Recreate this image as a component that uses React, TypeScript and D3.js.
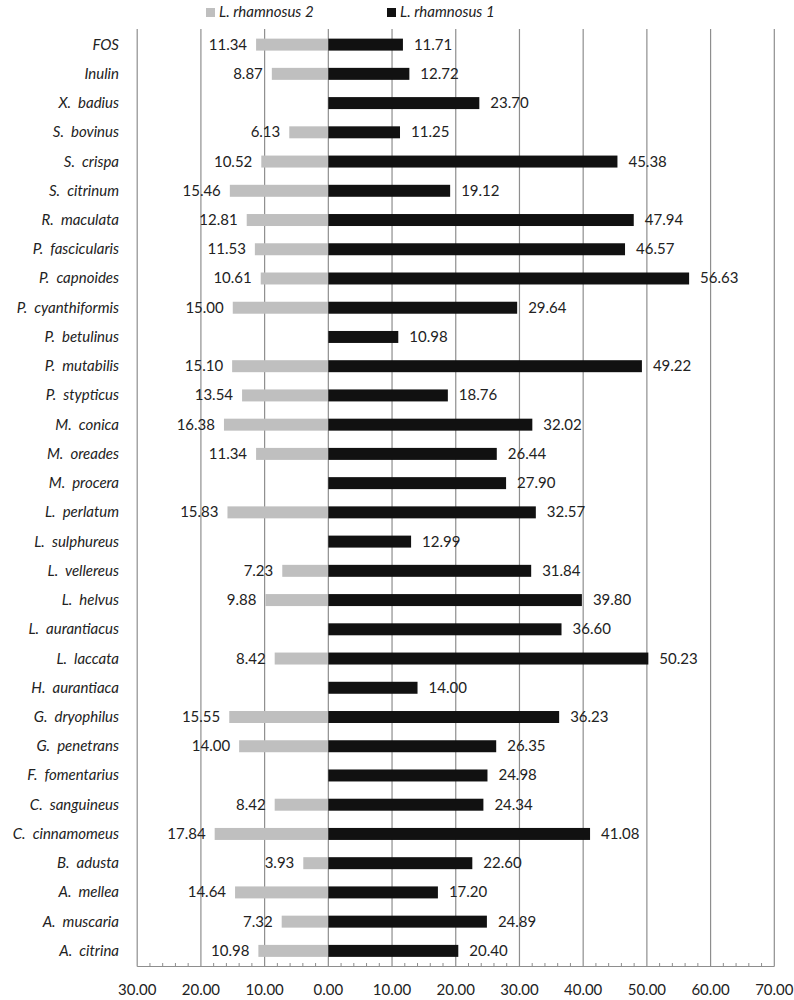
import React from "react";
import * as d3 from "d3";

const categories = [
  "FOS", "Inulin", "X.  badius", "S.  bovinus", "S.  crispa", "S.  citrinum", "R.  maculata",
  "P.  fascicularis", "P.  capnoides", "P.  cyanthiformis", "P.  betulinus", "P.  mutabilis",
  "P.  stypticus", "M.  conica", "M.  oreades", "M.  procera", "L.  perlatum", "L.  sulphureus",
  "L.  vellereus", "L.  helvus", "L.  aurantiacus", "L.  laccata", "H.  aurantiaca",
  "G.  dryophilus", "G.  penetrans", "F.  fomentarius", "C.  sanguineus", "C.  cinnamomeus",
  "B.  adusta", "A.  mellea", "A.  muscaria", "A.  citrina",
];

const rhamnosus2: (number | null)[] = [
  11.34, 8.87, null, 6.13, 10.52, 15.46, 12.81, 11.53, 10.61, 15.0, null, 15.1, 13.54, 16.38,
  11.34, null, 15.83, null, 7.23, 9.88, null, 8.42, null, 15.55, 14.0, null, 8.42, 17.84, 3.93,
  14.64, 7.32, 10.98,
];

const rhamnosus1: number[] = [
  11.71, 12.72, 23.7, 11.25, 45.38, 19.12, 47.94, 46.57, 56.63, 29.64, 10.98, 49.22, 18.76,
  32.02, 26.44, 27.9, 32.57, 12.99, 31.84, 39.8, 36.6, 50.23, 14.0, 36.23, 26.35, 24.98, 24.34,
  41.08, 22.6, 17.2, 24.89, 20.4,
];

const tickValues = [-30, -20, -10, 0, 10, 20, 30, 40, 50, 60, 70];
const seriesNames = ["L. rhamnosus 2", "L. rhamnosus 1"];

const FONT = "Lato, 'Open Sans', sans-serif";

export default function App() {
  const width = 794;
  const height = 1000;
  const x = d3.scaleLinear().domain([-30, 70]).range([137.2, 774.3]);
  const y = d3.scaleBand<string>().domain(categories).range([30, 965.5]).paddingInner(0.59).paddingOuter(0.295);
  const axisY = 966.5;
  const minor = d3.range(-30, 70.001, 2).filter((v) => Math.abs(v % 10) > 0.001);
  const fmt = d3.format(".2f");
  const grid = "#8e8e8e";
  const gray = "#bfbfbf";
  const black = "#111111";
  const bh = y.bandwidth();

  return (
    <svg width={width} height={height} style={{ position: "absolute", left: 0, top: 0 }} fontFamily={FONT}>
      <rect width={width} height={height} fill="#fff" />
      {/* legend */}
      <rect x={206} y={8} width={9} height={9} fill={gray} />
      <text x={219} y={17} fontSize={15} fontStyle="italic" fill="#222">{seriesNames[0]}</text>
      <rect x={387} y={8} width={9} height={9} fill={black} />
      <text x={400} y={17} fontSize={15} fontStyle="italic" fill="#222">{seriesNames[1]}</text>

      {/* gridlines */}
      {tickValues.map((t) => (
        <line key={t} x1={x(t)} x2={x(t)} y1={29} y2={axisY} stroke={grid} strokeWidth={1.2} />
      ))}
      {/* axis */}
      <line x1={x(-30)} x2={x(70)} y1={axisY} y2={axisY} stroke={grid} strokeWidth={1.2} />
      {minor.map((t) => (
        <line key={"m" + t} x1={x(t)} x2={x(t)} y1={axisY - 3.5} y2={axisY} stroke={grid} strokeWidth={1} />
      ))}
      {tickValues.map((t) => (
        <text key={"l" + t} x={x(t)} y={995} fontSize={15} textAnchor="middle" fill="#222">
          {fmt(Math.abs(t))}
        </text>
      ))}

      {/* bars */}
      {categories.map((c, i) => {
        const yc = (y(c) as number) + bh / 2;
        const v2 = rhamnosus2[i];
        const v1 = rhamnosus1[i];
        return (
          <g key={c}>
            <text x={119} y={yc + 5} fontSize={15} fontStyle="italic" textAnchor="end" fill="#222" style={{ whiteSpace: "pre" }}>
              {c}
            </text>
            {v2 != null && (
              <>
                <rect x={x(-v2)} y={y(c)} width={x(0) - x(-v2)} height={bh} fill={gray} />
                <text x={x(-v2) - 9} y={yc + 5} fontSize={15} textAnchor="end" fill="#222">
                  {fmt(v2)}
                </text>
              </>
            )}
            <rect x={x(0)} y={y(c)} width={x(v1) - x(0)} height={bh} fill={black} />
            <text x={x(v1) + 11} y={yc + 5} fontSize={15} textAnchor="start" fill="#222">
              {fmt(v1)}
            </text>
          </g>
        );
      })}
    </svg>
  );
}
